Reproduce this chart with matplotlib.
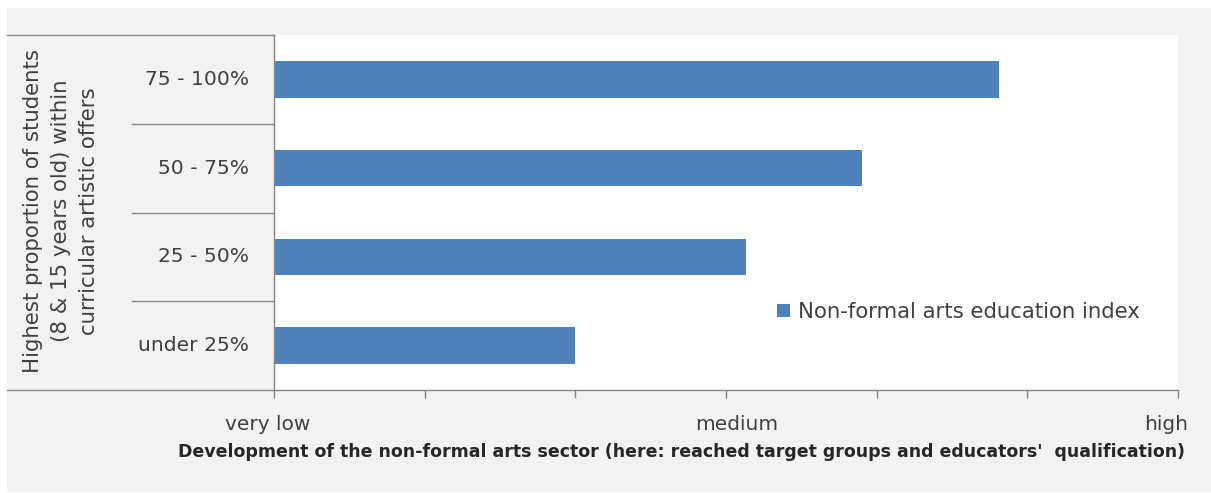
import matplotlib.pyplot as plt
from matplotlib.patches import Rectangle
from matplotlib.lines import Line2D
import matplotlib.transforms as mtransforms

plt.rcParams['font.family'] = ['DejaVu Sans']

categories = ['under 25%', '25 - 50%', '50 - 75%', '75 - 100%']
index_values = [2.0, 3.13, 3.9, 4.81]
tick_positions = [0, 1, 2, 3, 4, 5, 6]
tick_labels = ['very low', '', '', 'medium', '', '', 'high']
series_name = 'Non-formal arts education index'
y_title = 'Highest proportion of students\n(8 & 15 years old) within\ncurricular artistic offers'
x_title = ("Development of the non-formal arts sector "
           "(here: reached target groups and educators'  qualification)")

W, H = 1211, 493
fig = plt.figure(figsize=(W / 100, H / 100), dpi=100, facecolor='white')

# grey chart-area background
fig.patches.append(Rectangle((7 / W, 1 / H), 1 - 7 / W, (H - 9) / H,
                             transform=fig.transFigure, facecolor='#f2f2f2',
                             edgecolor='none', zorder=-5))

left, right, top, bottom = 274, 1178, 35, 390
ax = fig.add_axes([left / W, 1 - bottom / H, (right - left) / W, (bottom - top) / H])
ax.set_facecolor('white')

ypos = list(range(len(categories)))
ax.barh(ypos, index_values, height=0.41, color='#4f81bd', label=series_name, zorder=2)
ax.set_xlim(0, 6)
ax.set_ylim(-0.5, len(categories) - 0.5)

grey = '#868686'
text_col = '#404040'
for side in ['top', 'right']:
    ax.spines[side].set_visible(False)
for side in ['left', 'bottom']:
    ax.spines[side].set_color(grey)
    ax.spines[side].set_linewidth(1.0)

ax.set_xticks(tick_positions)
ax.set_xticklabels(tick_labels, fontsize=14.5, color=text_col)
ax.tick_params(axis='x', direction='out', length=6, width=1, color=grey, pad=12)
ax.set_yticks([])
# nudge the end labels inward and the middle one right, as the source layout does
for lab, dx in zip(ax.get_xticklabels(), [-6, 0, 0, 11, 0, 0, -12]):
    lab.set_transform(lab.get_transform() +
                      mtransforms.ScaledTranslation(dx / 100, 0, fig.dpi_scale_trans))

# category labels and the table-like dividers on the left
blend = mtransforms.blended_transform_factory(fig.transFigure, ax.transData)
for y, name in zip(ypos, categories):
    ax.text(249 / W, y, name, transform=blend, ha='right', va='center',
            fontsize=14.6, color=text_col)
for y in [0.5, 1.5, 2.5]:
    ax.add_line(Line2D([132 / W, left / W], [y, y], transform=blend, color=grey,
                       lw=1.0, clip_on=False))
ax.add_line(Line2D([7 / W, left / W], [len(categories) - 0.5] * 2, transform=blend,
                   color=grey, lw=1.0, clip_on=False))
ax.add_line(Line2D([7 / W, left / W], [-0.5, -0.5], transform=blend,
                   color=grey, lw=1.0, clip_on=False))

fig.text(61 / W, 1 - 211 / H, y_title, rotation=90, ha='center', va='center',
         fontsize=15.3, color=text_col, linespacing=1.5, multialignment='center')
fig.text(682 / W, 1 - 452 / H, x_title, ha='center', va='center',
         fontsize=12.5, fontweight='bold', color='#262626')

ax.legend(loc='center left', bbox_to_anchor=(758 / W, 1 - 312 / H),
          bbox_transform=fig.transFigure, frameon=False, fontsize=15.3,
          handlelength=0.6, handleheight=0.6, handletextpad=0.4,
          labelcolor=text_col)

fig.savefig('out.png', dpi=100, facecolor=fig.get_facecolor())
